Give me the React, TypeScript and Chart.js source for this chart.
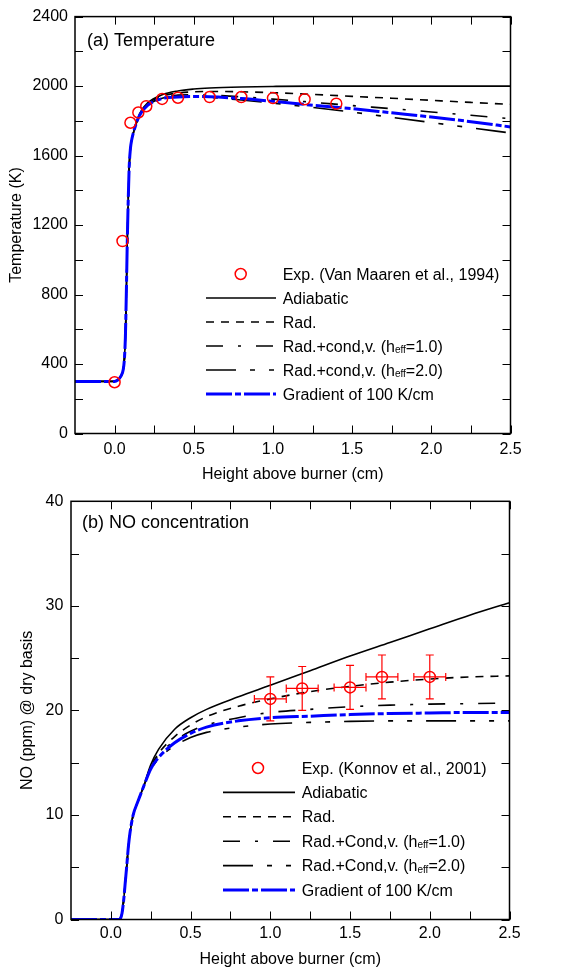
import React, { useEffect, useRef } from "react";
import { Chart, registerables } from "chart.js";

Chart.register(...registerables);

const FONT = '"Liberation Sans", Arial, Helvetica, sans-serif';

// ---------- Panel (a): Temperature ----------
const TEMP_X = [-0.25, 0, 0.02, 0.04, 0.055, 0.062, 0.068, 0.074, 0.08, 0.086, 0.092, 0.1, 0.107, 0.128, 0.16, 0.21, 0.3, 0.4, 0.5, 0.6, 0.8, 1.0, 1.25, 1.5, 1.75, 2.0, 2.25, 2.5];
const TEMP_ADIABATIC = [300, 300, 308, 330, 370, 430, 550, 800, 1100, 1340, 1530, 1640, 1685, 1760, 1845, 1905, 1950, 1972, 1983, 1989, 1995, 1998, 2000, 2000, 2000, 2000, 2000, 2000];
const TEMP_RAD = [300, 300, 308, 330, 370, 430, 550, 800, 1100, 1340, 1530, 1640, 1685, 1760, 1840, 1898, 1942, 1960, 1967, 1969, 1967, 1962, 1952, 1941, 1930, 1918, 1906, 1895];
const TEMP_H1 = [300, 300, 308, 330, 370, 430, 550, 800, 1100, 1340, 1530, 1640, 1685, 1760, 1837, 1893, 1935, 1948, 1950, 1948, 1938, 1925, 1907, 1888, 1870, 1851, 1832, 1812];
const TEMP_H2 = [300, 300, 308, 330, 370, 430, 550, 800, 1100, 1340, 1530, 1640, 1685, 1760, 1835, 1890, 1930, 1940, 1940, 1935, 1920, 1902, 1877, 1850, 1820, 1790, 1760, 1730];
const TEMP_GRAD = [300, 300, 308, 330, 370, 430, 550, 800, 1100, 1340, 1530, 1640, 1685, 1760, 1835, 1890, 1928, 1937, 1940, 1939, 1928, 1912, 1890, 1870, 1846, 1822, 1795, 1765];
const TEMP_EXP_X = [0, 0.05, 0.1, 0.15, 0.2, 0.3, 0.4, 0.6, 0.8, 1.0, 1.2, 1.4];
const TEMP_EXP = [295, 1108, 1789, 1848, 1884, 1926, 1933, 1937, 1937, 1931, 1924, 1899];

// ---------- Panel (b): NO ----------
const NO_X = [-0.25, 0, 0.05, 0.06, 0.07, 0.08, 0.09, 0.1, 0.11, 0.12, 0.14, 0.17, 0.2, 0.25, 0.3, 0.4, 0.5, 0.6, 0.8, 1.0, 1.25, 1.5, 1.75, 2.0, 2.25, 2.5];
const NO_ADIABATIC = [0, 0, 0, 0.1, 0.6, 1.8, 3.5, 5.2, 7.0, 8.3, 10.0, 11.3, 12.5, 14.8, 16.3, 18.2, 19.3, 20.1, 21.3, 22.4, 23.8, 25.2, 26.5, 27.8, 29.1, 30.3];
const NO_RAD = [0, 0, 0, 0.1, 0.6, 1.8, 3.5, 5.2, 7.0, 8.3, 10.0, 11.3, 12.5, 14.6, 15.9, 17.5, 18.6, 19.4, 20.4, 21.1, 21.8, 22.3, 22.7, 23.0, 23.2, 23.3];
const NO_H1 = [0, 0, 0, 0.1, 0.6, 1.8, 3.5, 5.2, 7.0, 8.3, 10.0, 11.3, 12.5, 14.5, 15.7, 17.1, 18.0, 18.6, 19.3, 19.8, 20.1, 20.35, 20.5, 20.6, 20.65, 20.7];
const NO_H2 = [0, 0, 0, 0.1, 0.6, 1.8, 3.5, 5.2, 7.0, 8.3, 10.0, 11.3, 12.5, 14.3, 15.4, 16.6, 17.4, 17.9, 18.4, 18.7, 18.85, 18.95, 19.0, 19.0, 19.0, 19.0];
const NO_GRAD = [0, 0, 0, 0.1, 0.6, 1.8, 3.5, 5.2, 7.0, 8.3, 10.0, 11.3, 12.5, 14.4, 15.5, 16.9, 17.8, 18.4, 19.0, 19.3, 19.45, 19.6, 19.7, 19.75, 19.8, 19.8];
const NO_EXP_X = [1.0, 1.2, 1.5, 1.7, 2.0];
const NO_EXP = [21.1, 22.1, 22.2, 23.2, 23.2];
const NO_EXP_YERR = [2.1, 2.1, 2.1, 2.1, 2.1];
const NO_EXP_XERR = [0.1, 0.1, 0.1, 0.1, 0.1];

// ---------- Ticks ----------
const X_TICKS = [0, 0.5, 1.0, 1.5, 2.0, 2.5];
const X_MINOR = [0.25, 0.75, 1.25, 1.75, 2.25];
const TEMP_TICKS = [0, 400, 800, 1200, 1600, 2000, 2400];
const TEMP_MINOR = [200, 600, 1000, 1400, 1800, 2200];
const NO_TICKS = [0, 10, 20, 30, 40];
const NO_MINOR = [5, 15, 25, 35];

// ---------- Labels ----------
const LABELS_A = ["Exp. (Van Maaren et al., 1994)", "Adiabatic", "Rad.", "Rad.+cond,v. (h_{eff}=1.0)", "Rad.+cond,v. (h_{eff}=2.0)", "Gradient of 100 K/cm"];
const LABELS_B = ["Exp. (Konnov et al., 2001)", "Adiabatic", "Rad.", "Rad.+Cond,v. (h_{eff}=1.0)", "Rad.+Cond,v. (h_{eff}=2.0)", "Gradient of 100 K/cm"];

const plain = (s: string) => s.replace(/_\{([^}]*)\}/g, "$1");
const zip = (xs: number[], ys: number[]) => xs.map((x, i) => ({ x, y: ys[i] }));

function drawRich(ctx: CanvasRenderingContext2D, text: string, x: number, baseY: number, size: number) {
  const parts = text.split(/(_\{[^}]*\})/);
  let cx = x;
  for (const p of parts) {
    if (!p) continue;
    if (p.startsWith("_{")) {
      const s = p.slice(2, -1);
      ctx.font = `${Math.round(size * 0.62)}px ${FONT}`;
      ctx.fillText(s, cx, baseY + 1.5);
      cx += ctx.measureText(s).width;
    } else {
      ctx.font = `${size}px ${FONT}`;
      ctx.fillText(p, cx, baseY);
      cx += ctx.measureText(p).width;
    }
  }
}

const framePlugin = {
  id: "frame",
  afterDatasetsDraw(chart: any, _a: any, opts: any) {
    const { ctx, chartArea } = chart;
    const { left, right, top, bottom } = chartArea;
    const xs = chart.scales.x;
    const ys = chart.scales.y;
    const L = 8;
    ctx.save();
    ctx.strokeStyle = "#000";
    ctx.lineWidth = 1;
    ctx.beginPath();
    for (const v of [...opts.xTicks, ...opts.xMinor]) {
      const px = Math.round(xs.getPixelForValue(v)) + 0.5;
      ctx.moveTo(px, bottom);
      ctx.lineTo(px, bottom - L);
      ctx.moveTo(px, top);
      ctx.lineTo(px, top + L);
    }
    for (const v of [...opts.yTicks, ...opts.yMinor]) {
      const py = Math.round(ys.getPixelForValue(v)) + 0.5;
      ctx.moveTo(left, py);
      ctx.lineTo(left + L, py);
      ctx.moveTo(right, py);
      ctx.lineTo(right - L, py);
    }
    ctx.stroke();
    ctx.lineWidth = 1.5;
    ctx.strokeRect(left, top, right - left, bottom - top);
    ctx.restore();
  },
};

const errorBarPlugin = {
  id: "errbars",
  afterDatasetsDraw(chart: any, _a: any, opts: any) {
    if (!opts || !opts.xs) return;
    const { ctx } = chart;
    const sx = chart.scales.x;
    const sy = chart.scales.y;
    const cap = 4;
    ctx.save();
    ctx.strokeStyle = opts.color;
    ctx.lineWidth = 1.2;
    ctx.beginPath();
    opts.xs.forEach((xv: number, i: number) => {
      const yv = opts.ys[i];
      const px = sx.getPixelForValue(xv);
      const py = sy.getPixelForValue(yv);
      const y1 = sy.getPixelForValue(yv + opts.yerr[i]);
      const y2 = sy.getPixelForValue(yv - opts.yerr[i]);
      const x1 = sx.getPixelForValue(xv - opts.xerr[i]);
      const x2 = sx.getPixelForValue(xv + opts.xerr[i]);
      ctx.moveTo(px, y1); ctx.lineTo(px, y2);
      ctx.moveTo(px - cap, y1); ctx.lineTo(px + cap, y1);
      ctx.moveTo(px - cap, y2); ctx.lineTo(px + cap, y2);
      ctx.moveTo(x1, py); ctx.lineTo(x2, py);
      ctx.moveTo(x1, py - cap); ctx.lineTo(x1, py + cap);
      ctx.moveTo(x2, py - cap); ctx.lineTo(x2, py + cap);
    });
    ctx.stroke();
    ctx.restore();
  },
};

const legendPlugin = {
  id: "customLegend",
  afterDraw(chart: any, _a: any, opts: any) {
    const { ctx } = chart;
    const ds = chart.data.datasets;
    ctx.save();
    ctx.fillStyle = "#000";
    ctx.textBaseline = "alphabetic";
    ctx.textAlign = "left";
    opts.items.forEach((it: any, i: number) => {
      const y = opts.y0 + i * opts.dy;
      const d = ds[it.dataset];
      if (it.marker) {
        ctx.beginPath();
        ctx.strokeStyle = d.borderColor;
        ctx.lineWidth = d.borderWidth;
        ctx.setLineDash([]);
        ctx.arc(opts.markerX, y, d.pointRadius, 0, Math.PI * 2);
        ctx.stroke();
      } else {
        ctx.beginPath();
        ctx.strokeStyle = d.borderColor;
        ctx.lineWidth = d.borderWidth;
        ctx.setLineDash(d.borderDash || []);
        ctx.moveTo(opts.lineX0, y);
        ctx.lineTo(opts.lineX1, y);
        ctx.stroke();
      }
      ctx.setLineDash([]);
      ctx.fillStyle = "#000";
      drawRich(ctx, it.text, opts.textX, y + 5.5, 16);
    });
    ctx.restore();
  },
};

const notePlugin = {
  id: "note",
  afterDraw(chart: any, _a: any, opts: any) {
    const { ctx } = chart;
    ctx.save();
    ctx.fillStyle = "#000";
    ctx.font = `18px ${FONT}`;
    ctx.textBaseline = "middle";
    ctx.textAlign = "left";
    ctx.fillText(opts.text, opts.x, opts.y);
    ctx.restore();
  },
};

function lineDs(label: string, xs: number[], ys: number[], color: string, width: number, dash: number[]) {
  return {
    label: plain(label),
    data: zip(xs, ys),
    borderColor: color,
    backgroundColor: color,
    borderWidth: width,
    borderDash: dash,
    pointRadius: 0,
    fill: false,
    cubicInterpolationMode: "monotone" as const,
  };
}

function expDs(label: string, xs: number[], ys: number[]) {
  return {
    label: plain(label),
    data: zip(xs, ys),
    showLine: false,
    borderColor: "#ff0000",
    backgroundColor: "rgba(0,0,0,0)",
    borderWidth: 1.5,
    pointRadius: 5.5,
    pointStyle: "circle",
  };
}

const DASH_RAD = [8, 7];
const DASH_H1 = [17, 15, 3, 15];
const DASH_H2 = [30, 14, 5, 14, 5, 14];
const DASH_GRAD = [26, 3, 6, 3];

function buildConfig(p: any) {
  const labels: string[] = p.labels;
  const datasets = [
    expDs(labels[0], p.expX, p.expY),
    lineDs(labels[5], p.x, p.grad, "#0000ff", 3, DASH_GRAD),
    lineDs(labels[1], p.x, p.adi, "#000000", 1.6, []),
    lineDs(labels[2], p.x, p.rad, "#000000", 1.6, DASH_RAD),
    lineDs(labels[3], p.x, p.h1, "#000000", 1.6, DASH_H1),
    lineDs(labels[4], p.x, p.h2, "#000000", 1.6, DASH_H2),
  ];
  const legendItems = [
    { text: labels[0], dataset: 0, marker: true },
    { text: labels[1], dataset: 2 },
    { text: labels[2], dataset: 3 },
    { text: labels[3], dataset: 4 },
    { text: labels[4], dataset: 5 },
    { text: labels[5], dataset: 1 },
  ];
  return {
    type: "line" as const,
    data: { datasets },
    plugins: [framePlugin, errorBarPlugin, legendPlugin, notePlugin],
    options: {
      responsive: false,
      animation: false as const,
      layout: { padding: p.padding },
      plugins: {
        legend: { display: false },
        tooltip: { enabled: false },
        frame: { xTicks: X_TICKS, xMinor: X_MINOR, yTicks: p.yTicks, yMinor: p.yMinor },
        errbars: p.err || {},
        customLegend: { items: legendItems, ...p.legendPos },
        note: p.note,
      },
      scales: {
        x: {
          type: "linear" as const,
          min: -0.25,
          max: 2.5,
          afterBuildTicks: (s: any) => {
            s.ticks = X_TICKS.map((v) => ({ value: v }));
          },
          afterFit: (s: any) => {
            s.height = p.xAxisHeight;
          },
          grid: { display: false, drawTicks: false, tickLength: 0 },
          border: { display: false },
          ticks: {
            color: "#000",
            font: { family: FONT, size: 16 },
            padding: p.xTickPad,
            maxRotation: 0,
            autoSkip: false,
            callback: (v: any) => Number(v).toFixed(1),
          },
          title: {
            display: true,
            text: "Height above burner (cm)",
            color: "#000",
            font: { family: FONT, size: 16 },
            padding: { top: 0, bottom: 0 },
          },
        },
        y: {
          type: "linear" as const,
          min: p.yMin,
          max: p.yMax,
          afterBuildTicks: (s: any) => {
            s.ticks = p.yTicks.map((v: number) => ({ value: v }));
          },
          afterFit: (s: any) => {
            s.width = p.yAxisWidth;
          },
          grid: { display: false, drawTicks: false, tickLength: 0 },
          border: { display: false },
          ticks: {
            color: "#000",
            font: { family: FONT, size: 16 },
            padding: p.yTickPad,
            autoSkip: false,
            callback: (v: any) => String(v),
          },
          title: {
            display: true,
            text: p.yTitle,
            color: "#000",
            font: { family: FONT, size: 16 },
            padding: { top: p.yTitlePad, bottom: 0 },
          },
        },
      },
    },
  };
}

export default function App() {
  const refA = useRef<HTMLCanvasElement>(null);
  const refB = useRef<HTMLCanvasElement>(null);

  useEffect(() => {
    Chart.defaults.font.family = FONT;
    const a = new Chart(
      refA.current as HTMLCanvasElement,
      buildConfig({
        labels: LABELS_A,
        x: TEMP_X,
        adi: TEMP_ADIABATIC,
        rad: TEMP_RAD,
        h1: TEMP_H1,
        h2: TEMP_H2,
        grad: TEMP_GRAD,
        expX: TEMP_EXP_X,
        expY: TEMP_EXP,
        yMin: 0,
        yMax: 2400,
        yTicks: TEMP_TICKS,
        yMinor: TEMP_MINOR,
        yTitle: "Temperature (K)",
        padding: { left: 0, right: 72.5, top: 14, bottom: 0 },
        xAxisHeight: 50.5,
        yAxisWidth: 75,
        xTickPad: 6,
        yTickPad: 7,
        yTitlePad: 7.4,
        legendPos: { markerX: 240.7, lineX0: 206, lineX1: 276, textX: 282.7, y0: 274, dy: 24 },
        note: { text: "(a) Temperature", x: 87, y: 41 },
      }) as any
    );
    const b = new Chart(
      refB.current as HTMLCanvasElement,
      buildConfig({
        labels: LABELS_B,
        x: NO_X,
        adi: NO_ADIABATIC,
        rad: NO_RAD,
        h1: NO_H1,
        h2: NO_H2,
        grad: NO_GRAD,
        expX: NO_EXP_X,
        expY: NO_EXP,
        err: { xs: NO_EXP_X, ys: NO_EXP, yerr: NO_EXP_YERR, xerr: NO_EXP_XERR, color: "#ff0000" },
        yMin: 0,
        yMax: 40,
        yTicks: NO_TICKS,
        yMinor: NO_MINOR,
        yTitle: "NO (ppm) @ dry basis",
        padding: { left: 0, right: 73.5, top: 12, bottom: 0 },
        xAxisHeight: 49.5,
        yAxisWidth: 71,
        xTickPad: 4.5,
        yTickPad: 7.7,
        yTitlePad: 18.4,
        legendPos: { markerX: 258, lineX0: 223, lineX1: 295, textX: 301.7, y0: 284, dy: 24.4 },
        note: { text: "(b) NO concentration", x: 82, y: 39 },
      }) as any
    );
    return () => {
      a.destroy();
      b.destroy();
    };
  }, []);

  return (
    <div style={{ position: "absolute", left: 0, top: 0, width: 583, height: 969, background: "#fff" }}>
      <canvas ref={refA} width={583} height={484} style={{ display: "block", width: 583, height: 484 }} />
      <canvas ref={refB} width={583} height={485} style={{ display: "block", width: 583, height: 485 }} />
    </div>
  );
}
